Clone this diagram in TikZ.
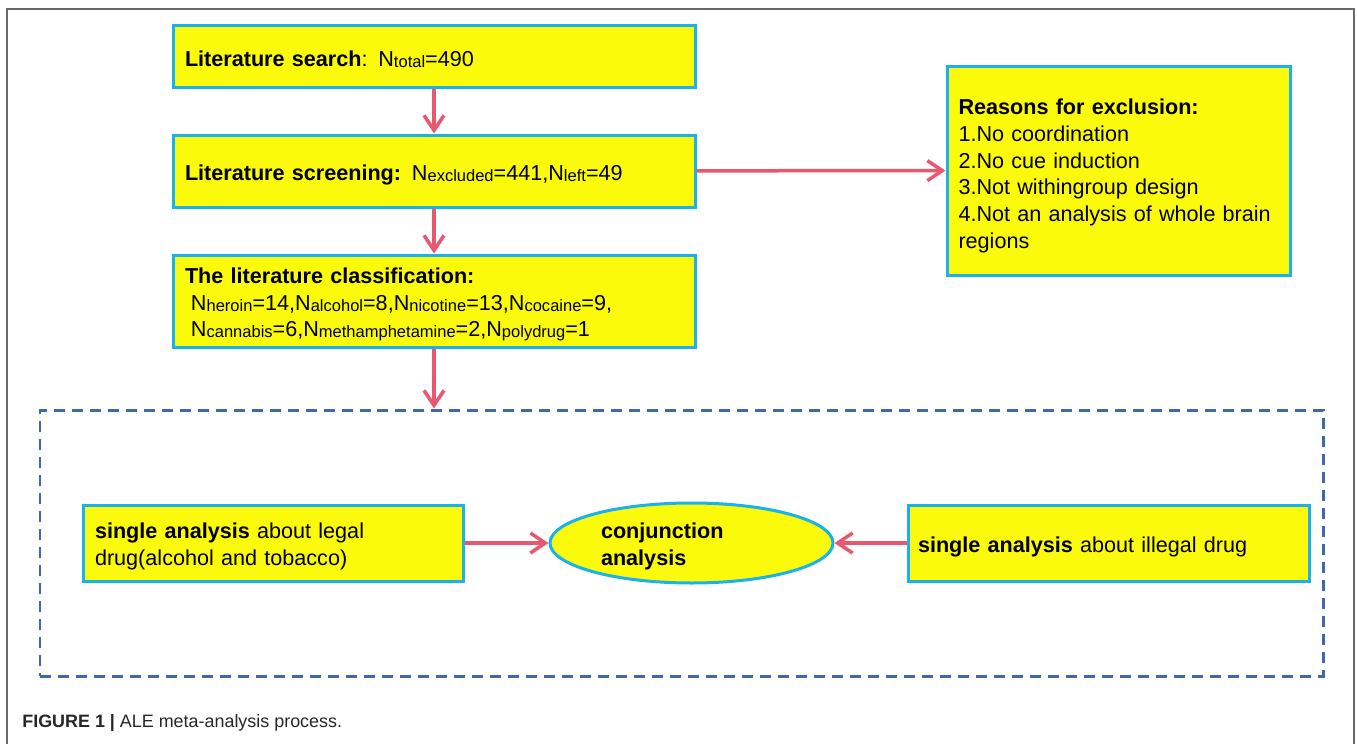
\documentclass[tikz,border=0pt]{standalone}
\usepackage{fontspec}
\setmainfont{Liberation Sans}
\usetikzlibrary{shapes.geometric,arrows.meta}

\definecolor{boxyellow}{RGB}{250,250,10}
\definecolor{boxcyan}{RGB}{25,178,238}
\definecolor{arrowpink}{RGB}{232,88,110}
\definecolor{dashblue}{RGB}{66,104,170}
\definecolor{framegray}{RGB}{105,105,105}

% N with a small index
\newcommand{\Nsub}[1]{N{\fontsize{9.4}{11}\selectfont\raisebox{-0.6pt}{#1}}}

\tikzset{
  flowbox/.style={rectangle, draw=boxcyan, fill=boxyellow, line width=0.06cm,
    inner sep=0pt, align=left, font=\fontsize{12.3}{15.2}\selectfont,
    execute at begin node={\rule{0pt}{13pt}}},
  flowoval/.style={ellipse, draw=boxcyan, fill=boxyellow, line width=0.06cm,
    inner sep=0pt, align=left, font=\fontsize{12.3}{15.2}\selectfont,
    execute at begin node={\rule{0pt}{13pt}}},
  groupbox/.style={rectangle, draw=dashblue, line width=0.06cm,
    dash pattern=on 0.22cm off 0.14cm, inner sep=0pt},
  flowarrow/.style={draw=arrowpink, line width=0.07cm,
    -{Straight Barb[length=0.3cm,width=0.4cm]}}
}

\begin{document}
\begin{tikzpicture}[x=0.02cm,y=-0.02cm]
% Configurable parameters
\def\pix{0.02cm}

\useasboundingbox (0,0) rectangle (1357,744);

% Frame round the figure
\draw[framegray, line width=0.03cm] (7,744) -- (7,9) -- (1354,9) -- (1354,744);

% Upper chain
\node[flowbox, minimum width=522*\pix, minimum height=62*\pix, text width=498*\pix]
  (search) at (434,56) {\textbf{Literature search}: \Nsub{total}=490};
\node[flowbox, minimum width=522*\pix, minimum height=72*\pix, text width=498*\pix]
  (screen) at (434,171) {\textbf{Literature screening:} \Nsub{excluded}=441,\Nsub{left}=49};
\node[flowbox, minimum width=522*\pix, minimum height=92*\pix, text width=498*\pix]
  (classify) at (434,301) {\textbf{The literature classification:}\\
  \hspace*{0.12cm}\Nsub{heroin}=14,\Nsub{alcohol}=8,\Nsub{nicotine}=13,\Nsub{cocaine}=9,\\
  \hspace*{0.12cm}\Nsub{cannabis}=6,\Nsub{methamphetamine}=2,\Nsub{polydrug}=1};
\node[flowbox, minimum width=343*\pix, minimum height=209*\pix, text width=320*\pix]
  (reasons) at (1118.5,170.5) {\rule{0pt}{15pt}\textbf{Reasons for exclusion:}\\1.No coordination\\
  2.No cue induction\\3.Not withingroup design\\4.Not an analysis of whole brain\\regions};

% Lower group
\node[groupbox, minimum width=1283*\pix, minimum height=266*\pix] (group) at (681.5,543) {};
\node[flowbox, minimum width=380*\pix, minimum height=76*\pix, text width=356*\pix]
  (legal) at (273,543) {\textbf{single analysis} about legal\\drug(alcohol and tobacco)};
\node[flowoval, minimum width=283*\pix, minimum height=80*\pix, text width=181*\pix]
  (conj) at (691.5,543) {\textbf{conjunction}\\\textbf{analysis}};
\node[flowbox, minimum width=401*\pix, minimum height=76*\pix, text width=381*\pix]
  (illegal) at (1108.5,543) {\textbf{single analysis} about illegal drug};

% Arrows
\draw[flowarrow] (search) -- (screen);
\draw[flowarrow] (screen) -- (classify);
\draw[flowarrow] (screen) -- (reasons);
\draw[flowarrow] (classify) -- (classify.south |- group.north);
\draw[flowarrow] (legal) -- (conj);
\draw[flowarrow] (illegal) -- (conj);

% Caption
\node[anchor=west, inner sep=0pt, text=black!85, font=\fontsize{10.2}{12}\selectfont]
  (caption) at (22,723) {\textbf{FIGURE 1 |} ALE meta-analysis process.};
\end{tikzpicture}
\end{document}
